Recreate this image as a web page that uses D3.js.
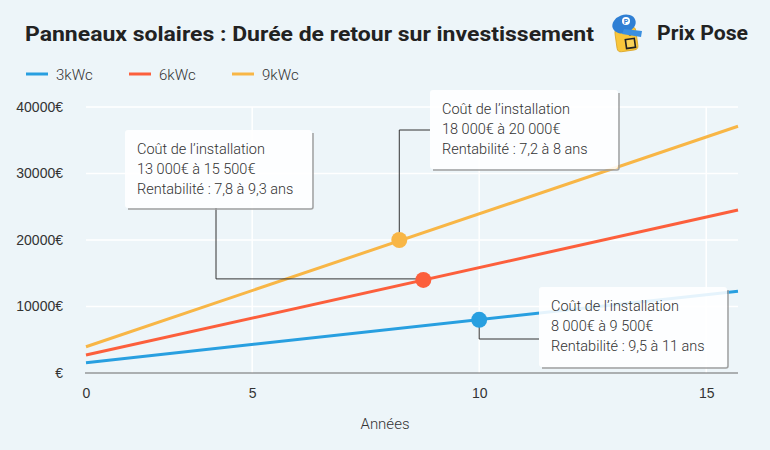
<!DOCTYPE html>
<html>
<head>
<meta charset="utf-8">
<script src="https://cdn.jsdelivr.net/npm/d3@7"></script>
<style>
  body { margin: 0; background: #edf5f9; }
  svg { font-family: Roboto, sans-serif; }
  .axis text { fill: #333; font-size: 14px; }
  .axis path, .axis line { display: none; }
</style>
</head>
<body>
<div id="chart"></div>
<script>
// data
const seriesNames = ['3kWc', '6kWc', '9kWc'];
const seriesColors = ['#289fe0', '#fc5f3c', '#f8b646'];
const years = [1.34, 15.7];              // line start / end on the x axis
const kwc3 = [1550, 12300];
const kwc6 = [2700, 24500];
const kwc9 = [3950, 37100];
const pointYears = [10, 8.77, 8.24];
const pointValues = [8000, 14000, 20000];
const yTicks = [0, 10000, 20000, 30000, 40000];
const xTicks = [1.34, 5, 10, 15];
const xTickLabels = ['0', '5', '10', '15'];
const notes = [
  ['Coût de l’installation', '8 000€ à 9 500€', 'Rentabilité : 9,5 à 11 ans'],
  ['Coût de l’installation', '13 000€ à 15 500€', 'Rentabilité : 7,8 à 9,3 ans'],
  ['Coût de l’installation', '18 000€ à 20 000€', 'Rentabilité : 7,2 à 8 ans']
];

const W = 770, H = 450;
const margin = { top: 107, bottom: 77, left: 86, right: 32 };

let svg = d3.select('#chart').append('svg')
    .attr('width', W).attr('height', H);

svg.append('rect').attr('width', W).attr('height', H).attr('fill', '#edf5f9');

// title
svg.append('text')
    .attr('x', 25).attr('y', 41)
    .attr('font-size', 21).attr('font-weight', 'bold').attr('fill', '#222')
    .attr('textLength', 569).attr('lengthAdjust', 'spacingAndGlyphs')
    .text('Panneaux solaires : Durée de retour sur investissement');

// logo (little worker with a blue cap)
let logo = svg.append('g');
logo.append('rect').attr('x', 616).attr('y', 28).attr('width', 21).attr('height', 23).attr('rx', 4)
    .attr('transform', 'rotate(-8,626,40)')
    .attr('fill', '#f9c63a').attr('stroke', '#d9a324').attr('stroke-width', 0.8);
logo.append('rect').attr('x', 626).attr('y', 39).attr('width', 9).attr('height', 9)
    .attr('transform', 'rotate(-8,630,44)')
    .attr('fill', '#f9d25a').attr('stroke', '#222').attr('stroke-width', 1.6);
logo.append('circle').attr('cx', 630).attr('cy', 34).attr('r', 1.6).attr('fill', '#222');
logo.append('circle').attr('cx', 636).attr('cy', 33).attr('r', 1.6).attr('fill', '#222');
logo.append('ellipse').attr('cx', 624).attr('cy', 24).attr('rx', 12).attr('ry', 9)
    .attr('transform', 'rotate(-20,624,24)').attr('fill', '#2f7fd4');
logo.append('path').attr('d', 'M624,29 L642,31 L641,37 L622,34 Z').attr('fill', '#3b8fe0');
logo.append('circle').attr('cx', 626).attr('cy', 21).attr('r', 4).attr('fill', '#fff');
logo.append('text').attr('x', 626).attr('y', 24).attr('text-anchor', 'middle')
    .attr('font-size', 7).attr('font-weight', 'bold').attr('fill', '#2f7fd4').text('P');
svg.append('text')
    .attr('x', 657).attr('y', 40)
    .attr('font-size', 20).attr('font-weight', 'bold').attr('fill', '#222')
    .attr('textLength', 91).attr('lengthAdjust', 'spacingAndGlyphs')
    .text('Prix Pose');

// legend
let legend = svg.append('g').selectAll('g')
    .data(seriesNames)
    .join('g')
    .attr('transform', (d, i) => `translate(${26 + i * 103},74)`);
legend.append('line').attr('x1', 0).attr('x2', 22)
    .attr('stroke', (d, i) => seriesColors[i]).attr('stroke-width', 3);
legend.append('text').attr('x', 30).attr('y', 5.5)
    .attr('font-size', 15).attr('fill', '#333').attr('font-weight', 300)
    .text(d => d);

// scales
let xscale = d3.scaleLinear().domain([years[0], years[1]]).range([margin.left, W - margin.right]);
let yscale = d3.scaleLinear().domain([0, 40000]).range([373, margin.top]);

// grid
svg.append('g').selectAll('line.h')
    .data(yTicks.slice(1))
    .join('line')
    .attr('x1', margin.left).attr('x2', W - margin.right)
    .attr('y1', d => yscale(d)).attr('y2', d => yscale(d))
    .attr('stroke', '#fff').attr('stroke-width', 1.5);
svg.append('g').selectAll('line.v')
    .data(xTicks.slice(1))
    .join('line')
    .attr('x1', d => xscale(d)).attr('x2', d => xscale(d))
    .attr('y1', yscale(40000)).attr('y2', yscale(0))
    .attr('stroke', '#fff').attr('stroke-width', 1.5);

// axes
let yaxis = d3.axisLeft(yscale).tickValues(yTicks)
    .tickFormat(d => d === 0 ? '€' : d + '€').tickSize(0).tickPadding(23);
svg.append('g').attr('class', 'y axis')
    .attr('transform', `translate(${margin.left},0)`).call(yaxis);

let xaxis = d3.axisBottom(xscale).tickValues(xTicks)
    .tickFormat((d, i) => xTickLabels[i]).tickSize(0).tickPadding(15);
svg.append('g').attr('class', 'x axis')
    .attr('transform', `translate(0,${yscale(0)})`).call(xaxis);

svg.append('line')
    .attr('x1', margin.left - 1).attr('x2', W - margin.right)
    .attr('y1', yscale(0)).attr('y2', yscale(0))
    .attr('stroke', '#6b6b6b').attr('stroke-width', 1.2);

svg.append('text')
    .attr('x', 385).attr('y', 429)
    .attr('text-anchor', 'middle').attr('font-size', 15).attr('fill', '#333')
    .attr('font-weight', 300)
    .text('Années');

// lines
let allSeries = [kwc3, kwc6, kwc9];
let line = d3.line().x((d, i) => xscale(years[i])).y(d => yscale(d));
svg.append('g').selectAll('path')
    .data(allSeries)
    .join('path')
    .attr('d', d => line(d))
    .attr('fill', 'none')
    .attr('stroke', (d, i) => seriesColors[i])
    .attr('stroke-width', 3);

// annotation connectors
let px = pointYears.map(d => xscale(d)), py = pointValues.map(d => yscale(d));
let boxes = [
  { x: 539, y: 287, w: 188, h: 80 },
  { x: 125, y: 130, w: 187, h: 78 },
  { x: 430, y: 90, w: 188, h: 79 }
];
let connectors = [
  [[px[0], py[0]], [px[0], 339], [boxes[0].x, 339]],
  [[px[1], py[1] - 1], [216, py[1] - 1], [216, boxes[1].y + boxes[1].h]],
  [[px[2], py[2]], [px[2], 130], [boxes[2].x, 130]]
];
svg.append('g').selectAll('path')
    .data(connectors)
    .join('path')
    .attr('d', d => d3.line()(d))
    .attr('fill', 'none').attr('stroke', '#333').attr('stroke-width', 1);

// points
svg.append('g').selectAll('circle')
    .data(pointValues)
    .join('circle')
    .attr('cx', (d, i) => xscale(pointYears[i]))
    .attr('cy', d => yscale(d))
    .attr('r', 8)
    .attr('fill', (d, i) => seriesColors[i]);

// annotation boxes (slightly see-through, shadow on right and bottom)
let note = svg.append('g').selectAll('g')
    .data(notes)
    .join('g')
    .attr('transform', (d, i) => `translate(${boxes[i].x},${boxes[i].y})`);
note.append('path')
    .attr('d', (d, i) => {
        let b = boxes[i];
        return `M${b.w + 1},3 L${b.w + 1},${b.h - 1} Q${b.w + 1},${b.h + 1} ${b.w - 1},${b.h + 1} L3,${b.h + 1}`;
    })
    .attr('fill', 'none').attr('stroke', '#a0a0a0').attr('stroke-width', 1.5);
note.append('rect')
    .attr('width', (d, i) => boxes[i].w).attr('height', (d, i) => boxes[i].h)
    .attr('rx', 3).attr('fill', '#fff').attr('fill-opacity', 0.88);
note.selectAll('text')
    .data(d => d)
    .join('text')
    .attr('x', 12).attr('y', (d, i) => 24 + i * 20)
    .attr('font-size', 14.5).attr('fill', '#333').attr('font-weight', 300)
    .text(d => d);
</script>
</body>
</html>
